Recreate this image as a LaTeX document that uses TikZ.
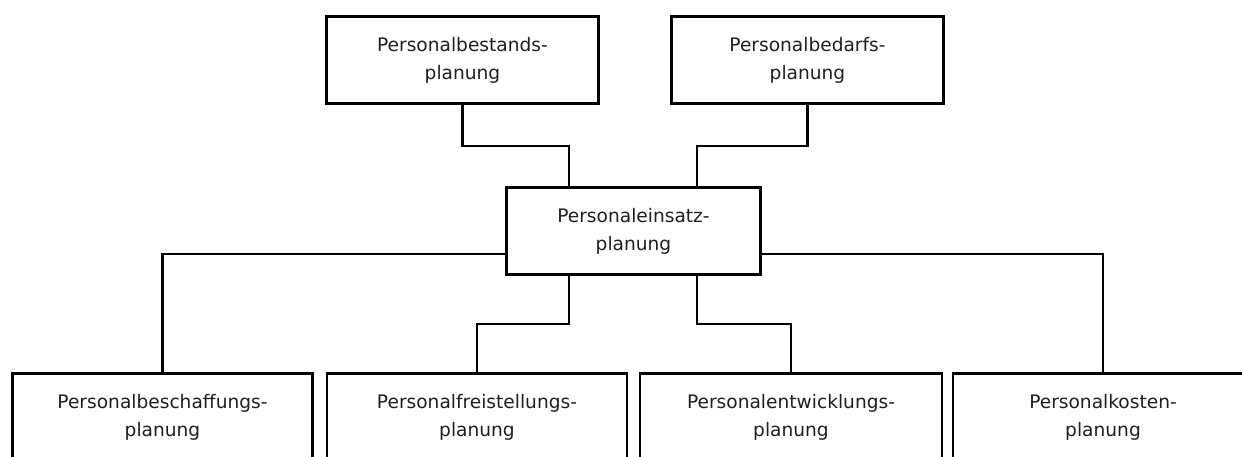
\documentclass[tikz,border=0pt]{standalone}
\usepackage{fontspec}
\setmainfont{DejaVu Sans}
\begin{document}
\begin{tikzpicture}[x=1pt,y=-1pt,
  box/.style={draw=black, line width=2.6pt, rectangle, inner sep=0pt,
    minimum height=87pt, align=center, text=black!88,
    font=\fontsize{18.6}{28}\selectfont},
  link/.style={draw=black, line width=2.6pt}]
\useasboundingbox (0,0) rectangle (1242,456);
% top level
\node[box, minimum width=272pt] (bestand) at (462.5,60) {Personalbestands-\\planung};
\node[box, minimum width=272pt] (bedarf)  at (807.5,60) {Personalbedarfs-\\planung};
% centre
\node[box, minimum width=254pt] (einsatz) at (633.5,231) {Personaleinsatz-\\planung};
% bottom level
\node[box, minimum width=300pt, minimum height=88pt] (beschaffung) at (162.5,417.5) {Personalbeschaffungs-\\planung};
\node[box, minimum width=300pt, minimum height=88pt] (freistellung) at (477,417.5) {Personalfreistellungs-\\planung};
\node[box, minimum width=302pt, minimum height=88pt] (entwicklung) at (791,417.5) {Personalentwicklungs-\\planung};
\node[box, minimum width=300pt, minimum height=88pt] (kosten) at (1103,417.5) {Personalkosten-\\planung};
% connectors
\draw[link] (bestand.south) -- ++(0,41) -| ([xshift=-64.5pt]einsatz.north);
\draw[link] (bedarf.south) -- ++(0,41) -| ([xshift=63.5pt]einsatz.north);
\draw[link] ([yshift=-23pt]einsatz.west) -| (beschaffung.north);
\draw[link] ([yshift=-23pt]einsatz.east) -| (kosten.north);
\draw[link] ([xshift=-64.5pt]einsatz.south) -- ++(0,48) -| (freistellung.north);
\draw[link] ([xshift=63.5pt]einsatz.south) -- ++(0,48) -| (entwicklung.north);
\end{tikzpicture}
\end{document}
